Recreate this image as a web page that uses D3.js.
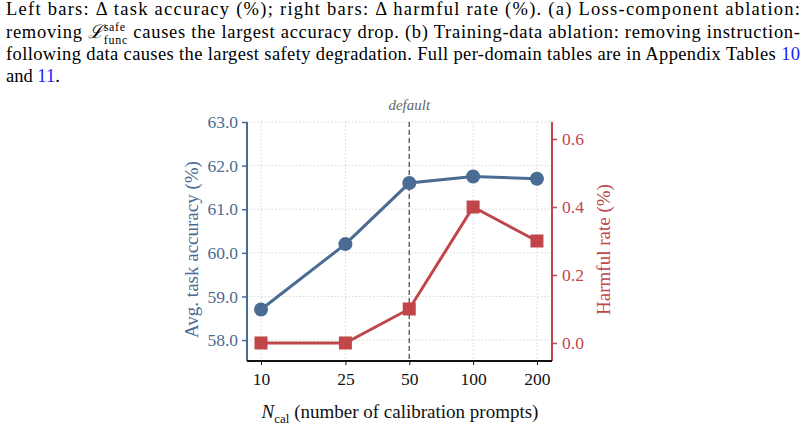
<!DOCTYPE html>
<html><head><meta charset="utf-8">
<script src="https://cdn.jsdelivr.net/npm/d3@7"></script>
<style>body{margin:0;background:#fff}text{font-family:"Liberation Serif","DejaVu Serif",serif}</style>
</head><body><svg id="c" width="807" height="429"></svg>
<script>
const nCal = [10, 25, 50, 100, 200]
const accuracy = [58.7, 60.2, 61.6, 61.75, 61.7]
const harmful = [0.0, 0.0, 0.1, 0.4, 0.3]
const accTicks = [58, 59, 60, 61, 62, 63]
const harmTicks = [0.0, 0.2, 0.4, 0.6]
const blue = "#4a6b93", red = "#c0464a"

const svg = d3.select("#c")

// caption
const cap = svg.append("g").style("font-size", "18.5px")
const l1 = cap.append("text").attr("x", 6).attr("y", 15).attr("textLength", 794).attr("lengthAdjust", "spacing")
  .text("Left bars: Δ task accuracy (%); right bars: Δ harmful rate (%).  (a) Loss-component ablation:")
const l2 = cap.append("text").attr("x", 6).attr("y", 38).attr("textLength", 794).attr("lengthAdjust", "spacing")
l2.append("tspan").text("removing ")
l2.append("tspan").style("font-style", "italic").text("ℒ")
l2.append("tspan").attr("dy", -7).style("font-size", "12px").text("safe")
l2.append("tspan").attr("dx", -22).attr("dy", 13).style("font-size", "12px").text("func")
l2.append("tspan").attr("dy", -6).text(" causes the largest accuracy drop. (b) Training-data ablation: removing instruction-")
cap.append("text").attr("x", 6).attr("y", 60).attr("textLength", 794).attr("lengthAdjust", "spacing")
  .text("following data causes the largest safety degradation. Full per-domain tables are in Appendix Tables ")
  .append("tspan").attr("fill", "#1a1aff").text("10")
const l4 = cap.append("text").attr("x", 6).attr("y", 82).text("and ")
l4.append("tspan").attr("fill", "#1a1aff").text("11")
l4.append("tspan").text(".")

// chart
const pLeft = 247, pRight = 552, pTop = 122, pBottom = 361
const x = d3.scaleLog().domain([8.59, 235.5]).range([pLeft, pRight])
const yL = d3.scaleLinear().domain([57.52, 63]).range([pBottom, pTop])
const yR = d3.scaleLinear().domain([-0.053, 0.65]).range([pBottom, pTop])

const grid = svg.append("g").attr("stroke", "#ccc").attr("stroke-dasharray", "1.5,2").attr("stroke-width", 0.8)
nCal.forEach(v => grid.append("line").attr("x1", x(v)).attr("x2", x(v)).attr("y1", pTop).attr("y2", pBottom))
accTicks.forEach(v => grid.append("line").attr("x1", pLeft).attr("x2", pRight).attr("y1", yL(v)).attr("y2", yL(v)))

svg.append("line").attr("x1", x(50)).attr("x2", x(50)).attr("y1", pTop).attr("y2", pBottom)
  .attr("stroke", "#555").attr("stroke-width", 1.3).attr("stroke-dasharray", "5,3")
svg.append("text").attr("x", x(50)).attr("y", 110).attr("text-anchor", "middle")
  .attr("fill", "#666").style("font-style", "italic").style("font-size", "15px").text("default")

const yAxisL = svg.append("g").attr("transform", `translate(${pLeft},0)`)
  .call(d3.axisLeft(yL).tickValues(accTicks).tickSize(5).tickPadding(4))
yAxisL.selectAll("path,line").attr("stroke", blue).attr("stroke-width", 1.5)
yAxisL.select(".domain").attr("d", `M0,${pBottom}V${pTop}`).attr("stroke-width", 2)
yAxisL.selectAll("text").attr("fill", blue).style("font-size", "17.5px").style("font-family", "Liberation Serif")

const yAxisR = svg.append("g").attr("transform", `translate(${pRight},0)`)
  .call(d3.axisRight(yR).tickValues(harmTicks).tickFormat(d3.format(".1f")).tickSize(5).tickPadding(5))
yAxisR.selectAll("path,line").attr("stroke", red).attr("stroke-width", 1.5)
yAxisR.select(".domain").attr("d", `M0,${pBottom}V${pTop}`).attr("stroke-width", 2)
yAxisR.selectAll("text").attr("fill", red).style("font-size", "17.5px").style("font-family", "Liberation Serif")

const xAxis = svg.append("g").attr("transform", `translate(0,${pBottom})`)
  .call(d3.axisBottom(x).tickValues(nCal).tickFormat(d3.format("d")).tickSize(4).tickPadding(8))
xAxis.select(".domain").attr("d", `M${pLeft},0H${pRight}`).attr("stroke", "#111").attr("stroke-width", 2)
xAxis.selectAll("line").attr("stroke", "#111")
xAxis.selectAll("text").attr("fill", "#111").style("font-size", "17.5px").style("font-family", "Liberation Serif")

svg.append("text").attr("transform", `translate(198,${(pTop + pBottom) / 2 + 8}) rotate(-90)`)
  .attr("text-anchor", "middle").attr("fill", blue).style("font-size", "19px").text("Avg. task accuracy (%)")
svg.append("text").attr("transform", `translate(610,${(pTop + pBottom) / 2 + 8}) rotate(-90)`)
  .attr("text-anchor", "middle").attr("fill", red).style("font-size", "19px").text("Harmful rate (%)")
const xl = svg.append("text").attr("x", 400).attr("y", 418).attr("text-anchor", "middle").attr("fill", "#111").style("font-size", "19px")
xl.append("tspan").style("font-style", "italic").text("N")
xl.append("tspan").attr("dy", 5).style("font-size", "13px").text("cal")
xl.append("tspan").attr("dy", -5).text(" (number of calibration prompts)")

const accPts = nCal.map((n, i) => [x(n), yL(accuracy[i])])
const harmPts = nCal.map((n, i) => [x(n), yR(harmful[i])])
svg.append("path").attr("d", d3.line()(harmPts)).attr("fill", "none").attr("stroke", red).attr("stroke-width", 3)
svg.selectAll(".sq").data(harmPts).join("rect").attr("x", d => d[0] - 6.5).attr("y", d => d[1] - 6.5)
  .attr("width", 13).attr("height", 13).attr("fill", red)
svg.append("path").attr("d", d3.line()(accPts)).attr("fill", "none").attr("stroke", blue).attr("stroke-width", 3)
svg.selectAll(".dot").data(accPts).join("circle").attr("cx", d => d[0]).attr("cy", d => d[1]).attr("r", 7).attr("fill", blue)
</script></body></html>
